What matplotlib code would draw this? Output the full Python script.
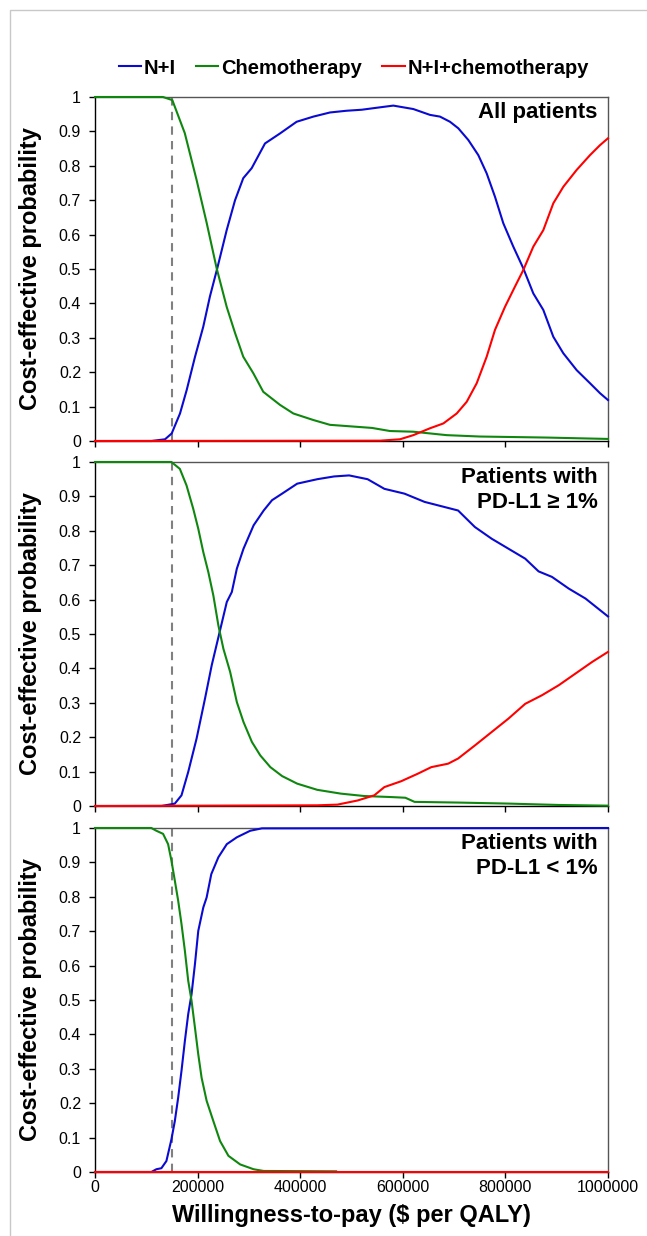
import matplotlib
matplotlib.use("Agg")
import matplotlib.pyplot as plt
from matplotlib import font_manager

# fonts
names = {f.name for f in font_manager.fontManager.ttflist}
narrow = "Liberation Sans Narrow" in names
plt.rcParams["font.family"] = ["Liberation Sans", "DejaVu Sans"]
if narrow:
    tick_font = {"family": ["Liberation Sans Narrow", "DejaVu Sans"], "size": 12.5}
    leg_font = {"family": ["Liberation Sans Narrow", "DejaVu Sans"], "size": 16, "weight": "bold"}
else:
    tick_font = {"family": ["Liberation Sans", "DejaVu Sans"], "size": 11.5}
    leg_font = {"family": ["Liberation Sans", "DejaVu Sans"], "size": 14.5, "weight": "bold"}

# ---- data ----
series_names = ["N+I", "Chemotherapy", "N+I+chemotherapy"]
panel_titles = ["All patients", "Patients with\nPD-L1 \u2265 1%", "Patients with\nPD-L1 < 1%"]
x_ticks = [0, 200000, 400000, 600000, 800000, 1000000]
y_ticks = [0, 0.1, 0.2, 0.3, 0.4, 0.5, 0.6, 0.7, 0.8, 0.9, 1]

# all patients
p1_blue_x = [0, 110000, 136500, 149500, 165700, 178700, 195000, 211000, 224000, 238500,
             256700, 273000, 289000, 305400, 331400, 360600, 393000, 425600, 458000, 490000,
             520000, 555600, 581500, 620500, 653000, 672500, 692000, 708200, 727700, 747200,
             763500, 779700, 795900, 815400, 834900, 854400, 873900, 893400, 912900, 938900,
             964900, 984400, 1000000]
p1_blue_y = [0, 0, 0.005, 0.022, 0.08, 0.148, 0.245, 0.332, 0.42, 0.503,
             0.613, 0.70, 0.764, 0.793, 0.865, 0.894, 0.928, 0.943, 0.955, 0.96,
             0.963, 0.970, 0.975, 0.965, 0.948, 0.943, 0.928, 0.909, 0.875, 0.831,
             0.778, 0.710, 0.633, 0.565, 0.502, 0.429, 0.381, 0.303, 0.255, 0.206,
             0.168, 0.139, 0.119]
p1_chemo_x = [0, 132500, 150700, 175000, 198000, 217700, 237000, 256700, 273000, 289000,
              308600, 328000, 360600, 386600, 425600, 458000, 540000, 575000, 620500, 653000,
              685600, 750500, 880600, 1000000]
p1_chemo_y = [1, 1, 0.991, 0.895, 0.759, 0.634, 0.503, 0.39, 0.314, 0.245,
              0.197, 0.143, 0.105, 0.08, 0.061, 0.047, 0.038, 0.029, 0.027, 0.022,
              0.017, 0.013, 0.010, 0.006]
p1_combo_x = [0, 555600, 594500, 620500, 653000, 679000, 705100, 724600, 744100, 763500,
              779700, 799200, 818700, 834900, 854400, 873900, 893400, 912900, 938900, 964900,
              984400, 1000000]
p1_combo_y = [0, 0.001, 0.005, 0.017, 0.037, 0.051, 0.080, 0.114, 0.168, 0.245,
              0.323, 0.390, 0.449, 0.497, 0.565, 0.613, 0.691, 0.739, 0.788, 0.831,
              0.860, 0.880]

# PD-L1 >= 1%
p2_blue_x = [0, 129400, 155600, 168600, 181700, 198000, 214400, 227500, 243800, 256900,
             266700, 276500, 289500, 309200, 328800, 345100, 364700, 394100, 433300, 466000,
             495400, 531400, 564100, 603300, 642500, 681700, 707800, 740500, 773200, 805900,
             838600, 864700, 890800, 923500, 956200, 1000000]
p2_blue_y = [0, 0, 0.007, 0.031, 0.099, 0.196, 0.312, 0.409, 0.511, 0.593,
             0.622, 0.690, 0.748, 0.816, 0.859, 0.889, 0.908, 0.937, 0.950, 0.958,
             0.961, 0.950, 0.922, 0.908, 0.884, 0.869, 0.859, 0.811, 0.777, 0.748,
             0.719, 0.682, 0.666, 0.632, 0.603, 0.551]
p2_chemo_x = [0, 149000, 165400, 178400, 191500, 201300, 211100, 220900, 230700, 240500,
              250300, 263400, 276500, 289500, 305900, 322200, 341800, 364700, 394100, 433300,
              479100, 524800, 577100, 605000, 622900, 707800, 805900, 903900, 1000000]
p2_chemo_y = [1, 1, 0.98, 0.932, 0.864, 0.806, 0.738, 0.680, 0.612, 0.525,
              0.457, 0.390, 0.302, 0.244, 0.186, 0.147, 0.113, 0.087, 0.065, 0.047,
              0.036, 0.029, 0.026, 0.024, 0.012, 0.010, 0.007, 0.003, 0.001]
p2_combo_x = [0, 433300, 472500, 511800, 544400, 564100, 596800, 629400, 655600, 688300,
              707800, 740500, 773200, 805900, 838600, 871300, 903900, 936600, 969300, 1000000]
p2_combo_y = [0, 0.002, 0.004, 0.016, 0.031, 0.055, 0.072, 0.094, 0.113, 0.123,
              0.138, 0.176, 0.215, 0.254, 0.297, 0.322, 0.351, 0.385, 0.419, 0.448]

# PD-L1 < 1%
p3_blue_x = [0, 109800, 119600, 129400, 139200, 149000, 155600, 162100, 168600, 175200,
             181700, 188200, 194800, 201300, 211100, 217600, 226700, 240500, 256900, 276500,
             302600, 325500, 1000000]
p3_blue_y = [0, 0, 0.008, 0.011, 0.032, 0.095, 0.148, 0.216, 0.294, 0.381,
             0.459, 0.517, 0.604, 0.701, 0.769, 0.798, 0.866, 0.915, 0.953, 0.973,
             0.992, 0.999, 1.0]
p3_chemo_x = [0, 109800, 119600, 132700, 142500, 149000, 155600, 162100, 168600, 175200,
              181700, 188200, 194800, 201300, 207800, 217600, 230700, 243800, 260100, 283000,
              309200, 328800, 470000]
p3_chemo_y = [1, 1, 0.992, 0.983, 0.953, 0.905, 0.847, 0.789, 0.721, 0.643,
              0.556, 0.498, 0.420, 0.342, 0.274, 0.207, 0.148, 0.090, 0.047, 0.022,
              0.008, 0.003, 0.002]
p3_combo_x = [0, 1000000]
p3_combo_y = [0, 0]

wtp_threshold = 150000

panels = [
    [(p1_blue_x, p1_blue_y), (p1_chemo_x, p1_chemo_y), (p1_combo_x, p1_combo_y)],
    [(p2_blue_x, p2_blue_y), (p2_chemo_x, p2_chemo_y), (p2_combo_x, p2_combo_y)],
    [(p3_blue_x, p3_blue_y), (p3_chemo_x, p3_chemo_y), (p3_combo_x, p3_combo_y)],
]
colors = ["#0a0ad2", "#0f870f", "#ff0000"]

# ---- figure ----
W, H = 647, 1236
fig = plt.figure(figsize=(W / 100, H / 100), dpi=100)
fig.patch.set_facecolor("white")

left, right = 95, 608
tops = [97, 462, 828]
ph = 344

handles = []
for i, (data, title) in enumerate(zip(panels, panel_titles)):
    top = tops[i]
    ax = fig.add_axes([left / W, 1 - (top + ph) / H, (right - left) / W, ph / H])
    ax.axvline(wtp_threshold, 0, 1, color="#808080", lw=1.5, ls=(0, (4, 3)), zorder=1)
    for (xs, ys), c, name in zip(data, colors, series_names):
        ln, = ax.plot(xs, ys, color=c, lw=1.5, clip_on=False, label=name, zorder=3)
        if i == 0:
            handles.append(ln)
    ax.set_xlim(0, 1000000)
    ax.set_ylim(0, 1)
    ax.set_xticks(x_ticks)
    ax.set_yticks(y_ticks)
    ax.set_yticklabels(["%g" % v for v in y_ticks], fontdict=tick_font)
    if i == 2:
        ax.set_xticklabels([str(v) for v in x_ticks], fontdict=tick_font)
        ax.set_xlabel("Willingness-to-pay ($ per QALY)", fontsize=17, fontweight="bold", labelpad=6)
    else:
        ax.set_xticklabels([])
    ax.tick_params(axis="y", direction="out", length=4, width=1, pad=6, colors="black")
    ax.tick_params(axis="x", direction="out", length=4, width=1, pad=2, colors="black")
    for s in ["left", "bottom"]:
        ax.spines[s].set_color("black")
        ax.spines[s].set_linewidth(1)
    for s in ["top", "right"]:
        ax.spines[s].set_color("#555555")
        ax.spines[s].set_linewidth(1)
    ax.set_ylabel("Cost-effective probability", fontsize=17, fontweight="bold", labelpad=6)
    ax.text(0.98, 0.985, title, transform=ax.transAxes, ha="right", va="top",
            fontsize=16, fontweight="bold", linespacing=1.25, multialignment="right",
            family=["Liberation Sans", "DejaVu Sans"])
    ax.yaxis.set_label_coords(-(95 - 42) / (right - left), 0.5)

fig.legend(handles, series_names, loc="center", bbox_to_anchor=(354 / W, 1 - 68 / H),
           ncol=3, frameon=False, handlelength=1.1, handletextpad=0.15,
           columnspacing=1.0, prop=leg_font)

# light border around the picture
fig.add_artist(plt.Rectangle((10 / W, -0.01), 1, 1 - 10 / H + 0.01, transform=fig.transFigure,
                             fill=False, edgecolor="#c8c8c8", lw=1))

fig.savefig("out.png", dpi=100)
